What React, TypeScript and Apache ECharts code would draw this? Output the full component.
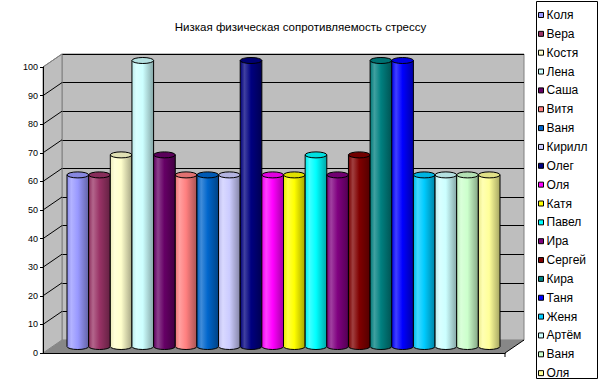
import React, { useEffect, useRef } from "react";
import * as echarts from "echarts";

const TITLE = "Низкая физическая сопротивляемость стрессу";
const NAMES = ["Коля", "Вера", "Костя", "Лена", "Саша", "Витя", "Ваня", "Кирилл", "Олег", "Оля", "Катя", "Павел", "Ира", "Сергей", "Кира", "Таня", "Женя", "Артём", "Ваня", "Оля"];
const VALUES = [60, 60, 67, 100, 67, 60, 60, 60, 100, 60, 60, 67, 60, 67, 100, 100, 60, 60, 60, 60];
const COLORS = ["#9999FF", "#993366", "#FFFFCC", "#CCFFFF", "#660066", "#FF8080", "#0066CC", "#CCCCFF", "#000080", "#FF00FF", "#FFFF00", "#00FFFF", "#800080", "#800000", "#008080", "#0000FF", "#00CCFF", "#CCFFFF", "#CCFFCC", "#FFFF99"];
const Y_TICKS = [0, 10, 20, 30, 40, 50, 60, 70, 80, 90, 100];

const FONT = "'Liberation Sans', Arial, sans-serif";
const DX = -19;
const DY = 13;

function mix(hex: string, target: number, t: number): string {
  const h = hex.replace("#", "");
  const c = [0, 2, 4].map((k) => parseInt(h.slice(k, k + 2), 16));
  const r = c.map((v) => Math.round(v + (target - v) * t));
  return "rgb(" + r.join(",") + ")";
}

export default function App() {
  const ref = useRef<HTMLDivElement>(null);
  useEffect(() => {
    if (!ref.current) return;
    const chart = echarts.init(ref.current, null, { renderer: "svg" });

    // unique series names for duplicated legend names
    const seen: Record<string, number> = {};
    const seriesNames = NAMES.map((n) => {
      seen[n] = (seen[n] || 0) + 1;
      return n + "\u200b".repeat(seen[n] - 1);
    });

    const frameSeries = {
      type: "custom",
      name: "__frame",
      xAxisIndex: 0,
      yAxisIndex: 0,
      z: 1,
      silent: true,
      data: [[0, 0]],
      renderItem: (_p: any, api: any) => {
        const lb = api.coord([0, Y_TICKS[0]]);
        const rt = api.coord([1, Y_TICKS[Y_TICKS.length - 1]]);
        const xl = lb[0], yb = lb[1], xr = rt[0], yt = rt[1];
        const children: any[] = [
          {
            type: "polygon",
            shape: { points: [[xl, yt], [xl, yb], [xl + DX, yb + DY], [xl + DX, yt + DY]] },
            style: { fill: "#bebebe", stroke: "#808080", lineWidth: 1 },
          },
          {
            type: "polygon",
            shape: { points: [[xl, yb], [xr, yb], [xr + DX, yb + DY], [xl + DX, yb + DY]] },
            style: { fill: "#878787", stroke: "none" },
          },
          {
            type: "line",
            shape: { x1: xr, y1: yb, x2: xr + DX, y2: yb + DY },
            style: { stroke: "#000", lineWidth: 1 },
          },
          {
            type: "line",
            shape: { x1: xr + DX, y1: yb + DY, x2: xr + DX, y2: yb + DY + 4 },
            style: { stroke: "#000", lineWidth: 1 },
          },
        ];
        Y_TICKS.forEach((v) => {
          if (v === Y_TICKS[0]) return;
          const p = api.coord([0, v]);
          const last = v === Y_TICKS[Y_TICKS.length - 1];
          children.push({
            type: "line",
            shape: { x1: p[0], y1: p[1], x2: p[0] + DX, y2: p[1] + DY },
            style: { stroke: last ? "#808080" : "#000", lineWidth: 1 },
          });
        });
        return { type: "group", children };
      },
    };

    const barSeries = NAMES.map((_, i) => ({
      type: "custom",
      name: seriesNames[i],
      xAxisIndex: 2,
      yAxisIndex: 2,
      z: 3,
      itemStyle: { color: COLORS[i] },
      data: [[i, VALUES[i]]],
      renderItem: (_p: any, api: any) => {
        const idx = api.value(0);
        const val = api.value(1);
        const top = api.coord([idx, val]);
        const bot = api.coord([idx, 0]);
        const w = api.size([1, 0])[0];
        const rx = w / 2;
        const ry = 3;
        const x0 = top[0] - rx;
        const x1 = top[0] + rx;
        const base = COLORS[i];
        const body = `M${x0} ${top[1]} L${x0} ${bot[1]} A${rx} ${ry} 0 0 0 ${x1} ${bot[1]} L${x1} ${top[1]} Z`;
        const cap = `M${x0} ${top[1]} A${rx} ${ry} 0 1 0 ${x1} ${top[1]} A${rx} ${ry} 0 1 0 ${x0} ${top[1]} Z`;
        return {
          type: "group",
          children: [
            {
              type: "path",
              shape: { pathData: body },
              style: {
                fill: {
                  type: "linear", x: 0, y: 0, x2: 1, y2: 0,
                  colorStops: [
                    { offset: 0, color: mix(base, 0, 0.08) },
                    { offset: 0.2, color: mix(base, 255, 0.25) },
                    { offset: 0.5, color: base },
                    { offset: 1, color: mix(base, 0, 0.35) },
                  ],
                },
                stroke: "#000",
                lineWidth: 1,
              },
            },
            {
              type: "path",
              shape: { pathData: cap },
              style: { fill: mix(base, 0, 0.12), stroke: "#000", lineWidth: 1 },
            },
          ],
        };
      },
    }));

    chart.setOption({
      animation: false,
      backgroundColor: "#fff",
      title: {
        text: TITLE,
        left: "center",
        top: 16,
        textStyle: { fontFamily: FONT, fontSize: 11.5, fontWeight: "normal", color: "#000" },
      },
      legend: {
        orient: "vertical",
        left: 538,
        top: 9,
        padding: 0,
        itemGap: 6.85,
        itemWidth: 5,
        itemHeight: 5,
        icon: "rect",
        itemStyle: { borderColor: "#000", borderWidth: 1 },
        textStyle: { fontFamily: FONT, fontSize: 12, lineHeight: 12, color: "#000", padding: [0, 0, 0, -2] },
        data: seriesNames,
        formatter: (n: string) => n.replace(/\u200b/g, ""),
        selectedMode: false,
      },
      grid: [
        { left: 62, right: 77, top: 54, bottom: 44, show: true, backgroundColor: "#bebebe", borderColor: "#808080", borderWidth: 1 },
        { left: 43, right: 96, top: 67, bottom: 31 },
        { left: 67, right: 101, top: 60.5, bottom: 37.5 },
      ],
      xAxis: [
        { gridIndex: 0, type: "value", min: 0, max: 1, show: false },
        {
          gridIndex: 1, type: "category", data: NAMES.map((_, i) => i),
          axisLine: { show: true, lineStyle: { color: "#000", width: 1 } },
          axisTick: { show: false }, axisLabel: { show: false }, splitLine: { show: false },
          z: 5,
        },
        { gridIndex: 2, type: "category", data: NAMES.map((_, i) => i), show: false },
      ],
      yAxis: [
        {
          gridIndex: 0, type: "value", min: 0, max: 100, interval: 10,
          axisLine: { show: false }, axisTick: { show: false }, axisLabel: { show: false },
          splitLine: { show: true, lineStyle: { color: "#000", width: 1 } },
        },
        {
          gridIndex: 1, type: "value", min: 0, max: 100, interval: 10,
          axisLine: { show: true, lineStyle: { color: "#000", width: 1 } },
          axisTick: { show: true, length: 3, lineStyle: { color: "#000" } },
          axisLabel: { show: true, fontFamily: FONT, fontSize: 9, color: "#000", margin: 5 },
          splitLine: { show: false },
          z: 5,
        },
        { gridIndex: 2, type: "value", min: 0, max: 100, show: false },
      ],
      graphic: [
        {
          type: "rect",
          shape: { x: 536.5, y: 1.5, width: 61, height: 377 },
          style: { fill: "none", stroke: "#000", lineWidth: 1 },
          z: 10,
        },
      ],
      series: [frameSeries, ...barSeries],
    });
    return () => chart.dispose();
  }, []);
  return <div ref={ref} style={{ position: "fixed", left: 0, top: 0, width: 601, height: 384 }} />;
}
